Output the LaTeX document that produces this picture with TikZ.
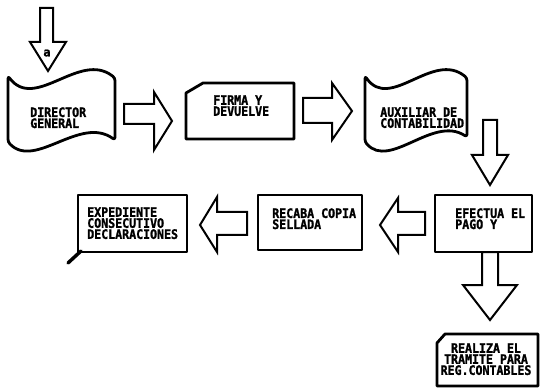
\documentclass[tikz,border=0pt]{standalone}
\usepackage{fontspec}
\newfontfamily\blockfont[BoldFeatures={FakeBold=1.6}]{DejaVu Sans Mono}
\begin{document}
\begin{tikzpicture}[x=0.75pt,y=-0.75pt,
  boxline/.style={draw=black,line width=2.1pt,line join=round},
  arrowline/.style={draw=black,line width=1.5pt,line join=miter,fill=white},
  lbl/.style={inner sep=0pt,align=left,anchor=north west,yscale=1.12,
    font=\blockfont\bfseries\fontsize{8.7}{7.4}\selectfont},
  clbl/.style={lbl,align=center,anchor=north}]
\useasboundingbox (0,0) rectangle (542,388);
\fill[white] (0,0) rectangle (542,388);

% incoming arrow with its mark
\draw[arrowline] (40,8) -- (53,8) -- (53,42) -- (66,42) -- (48,71)
  -- (30,42) -- (40,42) -- cycle;
\node[inner sep=0pt,font=\blockfont\bfseries\fontsize{9}{9}\selectfont] (mark) at (47,53) {a};

% DIRECTOR GENERAL (document shape)
\draw[boxline,rounded corners=2pt] (8,76) .. controls (35,112) and (80,50) .. (115,78)
  -- (115,140) .. controls (80,115) and (35,170) .. (8,142) -- cycle;
\node[lbl] (director) at (30,107) {DIRECTOR\\GENERAL};

% arrow to FIRMA Y DEVUELVE
\draw[arrowline] (124,104) -- (154,104) -- (154,92) -- (172,121) -- (154,150)
  -- (154,124) -- (124,124) -- cycle;

% FIRMA Y DEVUELVE (cut corner)
\draw[boxline] (186,93) -- (203,83) -- (294,83) -- (294,139) -- (186,139) -- cycle;
\node[lbl] (firma) at (213,95) {FIRMA Y\\DEVUELVE};

% arrow to AUXILIAR DE CONTABILIDAD
\draw[arrowline] (303,98) -- (332,98) -- (332,83) -- (352,111) -- (332,140)
  -- (332,123) -- (303,123) -- cycle;

% AUXILIAR DE CONTABILIDAD (document shape)
\draw[boxline,rounded corners=2pt] (365,76) .. controls (390,112) and (433,50) .. (467,78)
  -- (467,137) .. controls (433,115) and (390,170) .. (365,142) -- cycle;
\node[lbl] (auxiliar) at (380,107) {AUXILIAR DE\\CONTABILIDAD};

% arrow down to EFECTUA EL PAGO Y
\draw[arrowline] (483,120) -- (497,120) -- (497,155) -- (508,155) -- (490,185)
  -- (472,155) -- (483,155) -- cycle;

% EFECTUA EL PAGO Y
\draw[boxline] (435,195) rectangle (532,252);
\node[lbl] (efectua) at (455,208) {EFECTUA EL\\PAGO Y};

% arrow left to RECABA COPIA SELLADA
\draw[arrowline] (425,212) -- (398,212) -- (398,198) -- (380,225) -- (398,252)
  -- (398,235) -- (425,235) -- cycle;

% RECABA COPIA SELLADA
\draw[boxline] (258,195) rectangle (362,250);
\node[lbl] (recaba) at (272,208) {RECABA COPIA\\SELLADA};

% arrow left to EXPEDIENTE
\draw[arrowline] (247,212) -- (217,212) -- (217,197) -- (200,225) -- (217,252)
  -- (217,235) -- (247,235) -- cycle;

% EXPEDIENTE CONSECUTIVO DECLARACIONES (callout)
\draw[boxline] (78,195) rectangle (187,252);
\draw[line width=2.6pt,line cap=round] (81,251) -- (68,263);
\node[lbl] (expediente) at (87,207) {EXPEDIENTE\\CONSECUTIVO\\DECLARACIONES};

% arrow down to REALIZA EL TRAMITE
\draw[arrowline] (482,252) -- (498,252) -- (498,285) -- (517,285) -- (490,320)
  -- (463,285) -- (482,285) -- cycle;

% REALIZA EL TRAMITE PARA REG.CONTABLES (cut corner)
\draw[boxline] (437,343) -- (445,334) -- (538,334) -- (538,386) -- (437,386) -- cycle;
\node[clbl] (realiza) at (486,343) {REALIZA EL\\TRAMITE PARA\\REG.CONTABLES};
\end{tikzpicture}
\end{document}
